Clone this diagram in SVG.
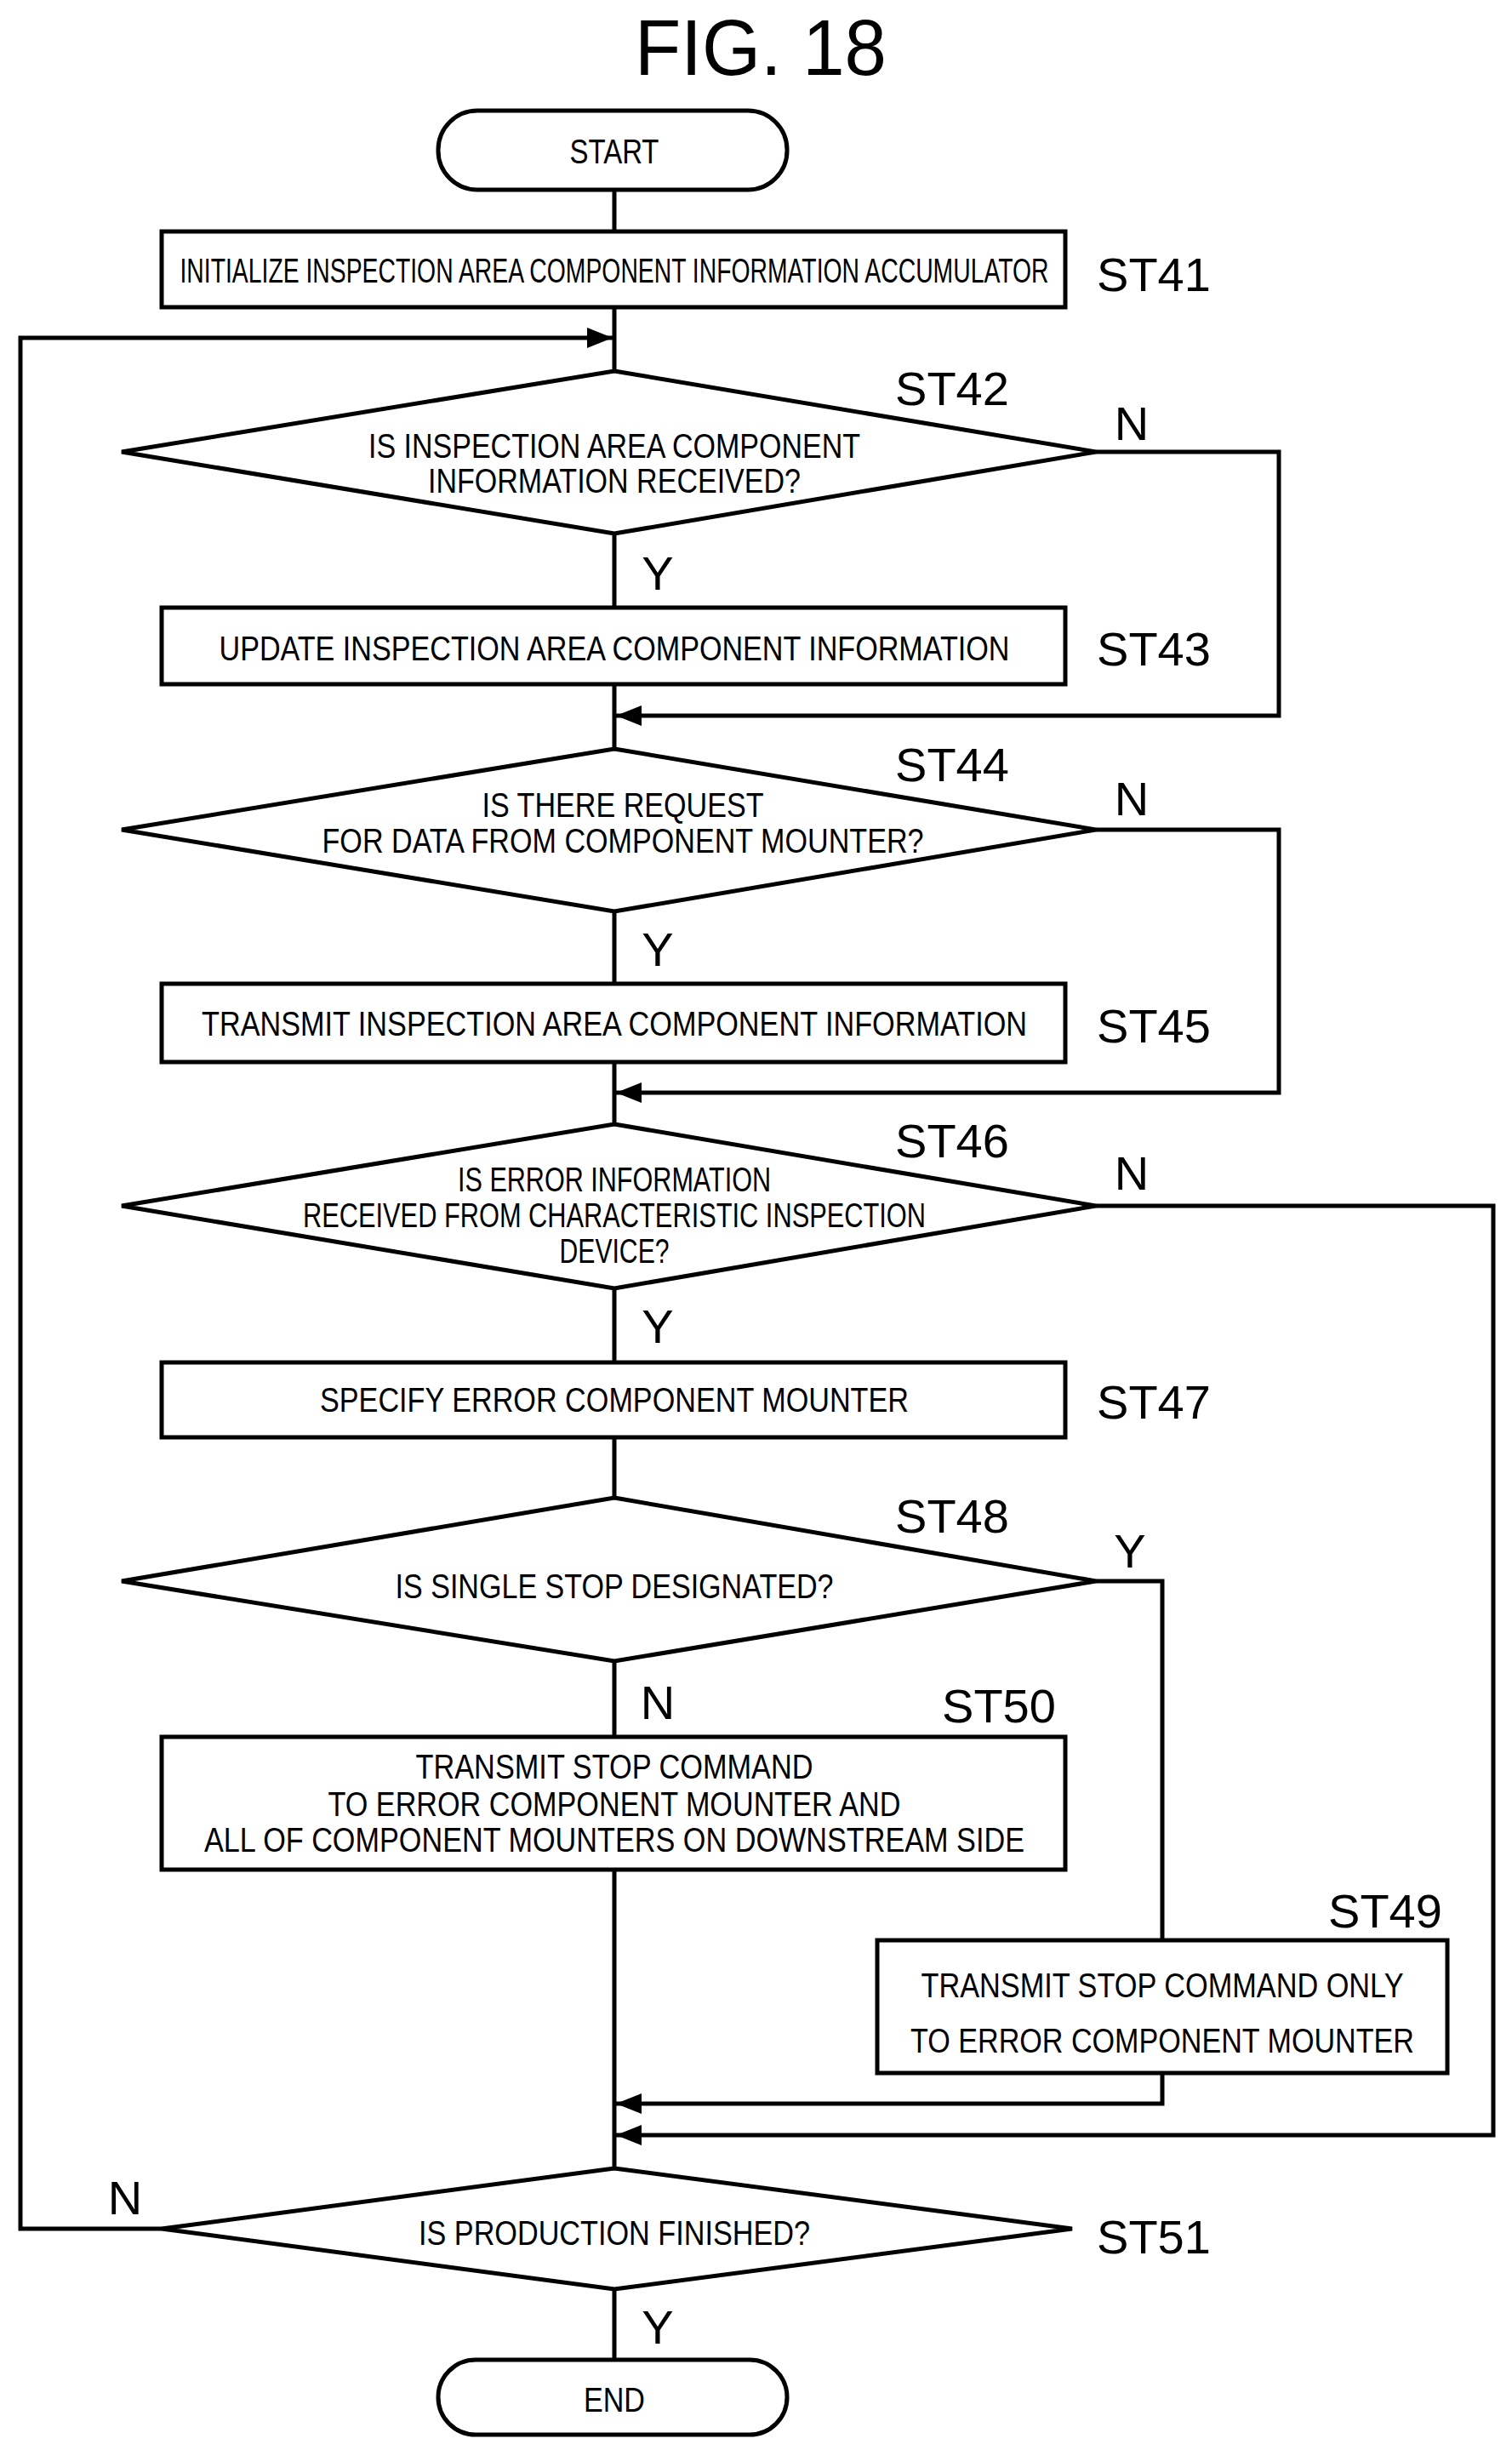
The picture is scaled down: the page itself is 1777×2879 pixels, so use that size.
<svg xmlns="http://www.w3.org/2000/svg" width="1777" height="2879" viewBox="0 0 1777 2879">
<style>
.s{fill:#fff;stroke:#000;stroke-width:5}
.l{fill:none;stroke:#000;stroke-width:5}
.t{font-family:"Liberation Sans",Arial,sans-serif;font-size:40px;text-anchor:middle;dominant-baseline:central}
.b{font-family:"Liberation Sans",Arial,sans-serif;font-size:56px;text-anchor:middle;dominant-baseline:central}
</style>
<defs><marker id="m" viewBox="0 0 10 10" refX="10" refY="5" markerWidth="30" markerHeight="30" markerUnits="userSpaceOnUse" orient="auto"><path d="M0,1L10,5L0,9z"/></marker></defs>
<text x="894" y="56" style="font-family:'Liberation Sans',Arial,sans-serif;font-size:92px;text-anchor:middle;dominant-baseline:central" textLength="296" lengthAdjust="spacingAndGlyphs">FIG. 18</text>
<g id="connectors">
<path class="l" d="M722,224V272M722,361V436M722,627V714M722,804V880M722,1071V1156M722,1248V1321M722,1514V1601M722,1689V1760M722,1952V2041M722,2197V2548M722,2690V2773"/>
<path class="l" marker-end="url(#m)" d="M190,2619H24V397H720"/>
<path class="l" marker-end="url(#m)" d="M1288,531H1503V841H724"/>
<path class="l" marker-end="url(#m)" d="M1288,975H1503V1284H724"/>
<path class="l" marker-end="url(#m)" d="M1288,1417H1755V2509H724"/>
<path class="l" d="M1288,1858H1366V2280"/>
<path class="l" marker-end="url(#m)" d="M1366,2436V2472H724"/>
</g>
<g id="start"><rect class="s" x="515" y="130" width="410" height="93" rx="46"/><text class="t" x="722" y="178" textLength="105" lengthAdjust="spacingAndGlyphs">START</text></g>
<g id="st41"><rect class="s" x="190" y="272" width="1062" height="89"/><text class="t" x="722" y="318" font-size="30" textLength="1021" lengthAdjust="spacingAndGlyphs">INITIALIZE INSPECTION AREA COMPONENT INFORMATION ACCUMULATOR</text><text class="b" x="1356" y="322">ST41</text></g>
<g id="st42"><polygon class="s" points="722,436 1288,531 722,627 143,531"/><text class="t" x="722" y="524" textLength="578" lengthAdjust="spacingAndGlyphs">IS INSPECTION AREA COMPONENT</text><text class="t" x="722" y="565" textLength="438" lengthAdjust="spacingAndGlyphs">INFORMATION RECEIVED?</text><text class="b" x="1119" y="456">ST42</text><text class="b" x="1330" y="497">N</text><text class="b" x="773" y="673">Y</text></g>
<g id="st43"><rect class="s" x="190" y="714" width="1062" height="90"/><text class="t" x="722" y="762" font-size="35" textLength="929" lengthAdjust="spacingAndGlyphs">UPDATE INSPECTION AREA COMPONENT INFORMATION</text><text class="b" x="1356" y="762">ST43</text></g>
<g id="st44"><polygon class="s" points="722,880 1288,975 722,1071 143,975"/><text class="t" x="732" y="946" textLength="331" lengthAdjust="spacingAndGlyphs">IS THERE REQUEST</text><text class="t" x="732" y="988" textLength="707" lengthAdjust="spacingAndGlyphs">FOR DATA FROM COMPONENT MOUNTER?</text><text class="b" x="1119" y="898">ST44</text><text class="b" x="1330" y="938">N</text><text class="b" x="773" y="1115">Y</text></g>
<g id="st45"><rect class="s" x="190" y="1156" width="1062" height="92"/><text class="t" x="722" y="1203" font-size="34" textLength="970" lengthAdjust="spacingAndGlyphs">TRANSMIT INSPECTION AREA COMPONENT INFORMATION</text><text class="b" x="1356" y="1205">ST45</text></g>
<g id="st46"><polygon class="s" points="722,1321 1288,1417 722,1514 143,1417"/><text class="t" x="722" y="1386" textLength="368" lengthAdjust="spacingAndGlyphs">IS ERROR INFORMATION</text><text class="t" x="722" y="1428" textLength="732" lengthAdjust="spacingAndGlyphs">RECEIVED FROM CHARACTERISTIC INSPECTION</text><text class="t" x="722" y="1470" textLength="129" lengthAdjust="spacingAndGlyphs">DEVICE?</text><text class="b" x="1119" y="1340">ST46</text><text class="b" x="1330" y="1378">N</text><text class="b" x="773" y="1558">Y</text></g>
<g id="st47"><rect class="s" x="190" y="1601" width="1062" height="88"/><text class="t" x="722" y="1645" textLength="692" lengthAdjust="spacingAndGlyphs">SPECIFY ERROR COMPONENT MOUNTER</text><text class="b" x="1356" y="1647">ST47</text></g>
<g id="st48"><polygon class="s" points="722,1760 1288,1858 722,1952 143,1858"/><text class="t" x="722" y="1864" textLength="515" lengthAdjust="spacingAndGlyphs">IS SINGLE STOP DESIGNATED?</text><text class="b" x="1119" y="1781">ST48</text><text class="b" x="1328" y="1822">Y</text><text class="b" x="773" y="2000">N</text></g>
<g id="st50"><rect class="s" x="190" y="2041" width="1062" height="156"/><text class="t" x="722" y="2076" textLength="467" lengthAdjust="spacingAndGlyphs">TRANSMIT STOP COMMAND</text><text class="t" x="722" y="2120" textLength="673" lengthAdjust="spacingAndGlyphs">TO ERROR COMPONENT MOUNTER AND</text><text class="t" x="722" y="2162" textLength="964" lengthAdjust="spacingAndGlyphs">ALL OF COMPONENT MOUNTERS ON DOWNSTREAM SIDE</text><text class="b" x="1174" y="2004">ST50</text></g>
<g id="st49"><rect class="s" x="1031" y="2280" width="670" height="156"/><text class="t" x="1366" y="2333" textLength="567" lengthAdjust="spacingAndGlyphs">TRANSMIT STOP COMMAND ONLY</text><text class="t" x="1366" y="2398" textLength="592" lengthAdjust="spacingAndGlyphs">TO ERROR COMPONENT MOUNTER</text><text class="b" x="1628" y="2245">ST49</text></g>
<g id="st51"><polygon class="s" points="722,2548 1260,2619 722,2690 190,2619"/><text class="t" x="722" y="2624" textLength="460" lengthAdjust="spacingAndGlyphs">IS PRODUCTION FINISHED?</text><text class="b" x="1356" y="2628">ST51</text><text class="b" x="147" y="2582">N</text><text class="b" x="773" y="2734">Y</text></g>
<g id="end"><rect class="s" x="515" y="2773" width="410" height="88" rx="44"/><text class="t" x="722" y="2820" textLength="72" lengthAdjust="spacingAndGlyphs">END</text></g>
</svg>
